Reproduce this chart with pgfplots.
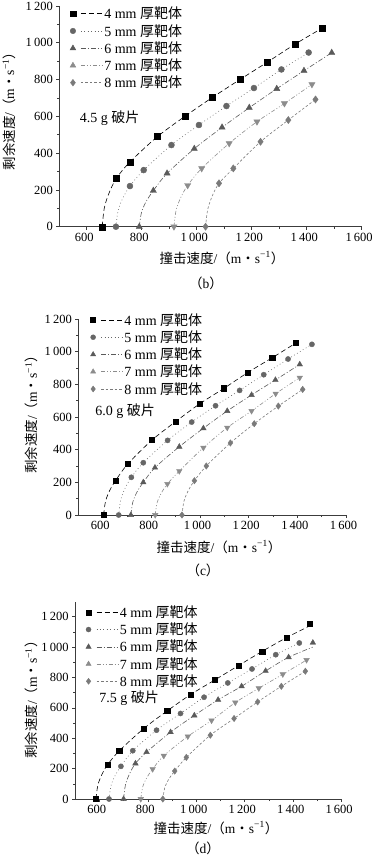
\documentclass[border=0pt]{standalone}
\usepackage{fontspec}
\setmainfont{Liberation Serif}
\newfontfamily\cjk{Noto Sans CJK SC}
\usepackage{pgfplots}
\pgfplotsset{compat=1.18}

\definecolor{g5}{HTML}{666666}
\definecolor{g6}{HTML}{5A5A5A}
\definecolor{g7}{HTML}{8C8C8C}
\definecolor{g8}{HTML}{7A7A7A}
\definecolor{axc}{HTML}{3C3C3C}

\tikzset{
  dA/.style={dash pattern=on 5pt off 3pt},
  dB/.style={dash pattern=on 0.8pt off 2.6pt},
  dC/.style={dash pattern=on 5pt off 2pt on 1pt off 2pt},
  dD/.style={dash pattern=on 4pt off 2pt on 1pt off 2pt on 1pt off 2pt},
  dE/.style={dash pattern=on 2.5pt off 2pt},
}

\pgfplotsset{
  legimg/.style n args={4}{legend image code/.code={
     \draw[#1, #4, line width=0.6pt] (0.38cm,0cm) -- (1.12cm,0cm);
     \path[draw=#1, fill=#1, mark=#2, mark size=#3, mark options={solid}] plot coordinates {(0.1cm,0cm)};
  }},
  base/.style={
    scale only axis, axis lines=left, axis line style={-, axc, line width=0.7pt},
    xmin=500, xmax=1600, ymin=0,
    xtick={600,800,...,1600}, minor x tick num=1,
    ytick={0,200,...,1200}, minor y tick num=1,
    tick align=outside, major tick length=3pt, minor tick length=2pt,
    tick style={axc, line width=0.6pt},
    /pgf/number format/assume math mode=true,
    /pgf/number format/1000 sep={\,},
    font=\fontsize{13}{15}\selectfont,
    ticklabel style={font=\fontsize{12.5}{15}\selectfont},
    xticklabel style={xshift=-2.5pt},
    clip=false,
    legend style={draw=none, fill=none, anchor=north west, legend cell align=left,
      row sep=0pt, font=\fontsize{14}{16}\selectfont, inner sep=0pt},
  },
  cv/.style={line width=0.6pt, smooth, tension=0.5, forget plot},
  mk/.style={only marks, forget plot, mark options={solid}},
}

\newcommand{\xl}{{\cjk 撞击速度}/{\cjk （}m{\cjk ・}s\textsuperscript{−1}{\cjk ）}}
\newcommand{\yl}{{\cjk 剩余速度}/{\cjk （}m{\cjk ・}s\textsuperscript{−1}{\cjk ）}}
\newcommand{\legt}[1]{#1 mm {\cjk 厚靶体}}

\begin{document}
\begin{tikzpicture}
\useasboundingbox (0,0) rectangle (372pt,-860pt);

% ---------------- (b) ----------------
\begin{axis}[base, at={(59.3pt,-226.7pt)}, anchor=south west,
  width=302.4pt, height=220.7pt, ymax=1200,
  legend style={at={(0.035,1.005)}}]
\addlegendimage{legimg={black}{square*}{2.8pt}{dA}}
\addlegendentry{\legt{4}}
\addlegendimage{legimg={g5}{*}{2.8pt}{dB}}
\addlegendentry{\legt{5}}
\addlegendimage{legimg={g6}{triangle*}{3.3pt}{dC}}
\addlegendentry{\legt{6}}
\addlegendimage{legimg={g7}{triangle*, mark options={rotate=180}}{3.3pt}{dD}}
\addlegendentry{\legt{7}}
\addlegendimage{legimg={g8}{diamond*}{3.3pt}{dE}}
\addlegendentry{\legt{8}}

\addplot[cv, black, dA] coordinates {(656,0)(664,104)(681,183)(707,262)(757,352)(857,490)(957,600)(1057,703)(1157,800)(1257,895)(1357,992)(1457,1080)};
\addplot[cv, g5, dB] coordinates {(706,0)(714,88)(731,155)(757,221)(807,308)(908,444)(1008,553)(1108,656)(1208,754)(1308,855)(1407,947)};
\addplot[cv, g6, dC] coordinates {(791,0)(799,78)(816,137)(842,196)(892,290)(991,424)(1092,540)(1191,647)(1291,750)(1390,848)(1491,946)};
\addplot[cv, g7, dD] coordinates {(917,0)(925,90)(942,159)(967,225)(1018,317)(1118,453)(1219,571)(1319,670)(1419,774)};
\addplot[cv, g8, dE] coordinates {(1032,0)(1040,95)(1057,169)(1081,236)(1133,317)(1232,462)(1333,580)(1432,692)};

\addplot[mk, black, mark=square*, mark size=3pt] coordinates {(656,0)(707,262)(757,352)(857,490)(957,600)(1057,703)(1157,800)(1257,895)(1357,992)(1457,1080)};
\addplot[mk, g5, mark=*, mark size=3pt] coordinates {(706,0)(757,221)(807,308)(908,444)(1008,553)(1108,656)(1208,754)(1308,855)(1407,947)};
\addplot[mk, g6, mark=triangle*, mark size=3.6pt] coordinates {(791,0)(842,196)(892,290)(991,424)(1092,540)(1191,647)(1291,750)(1390,848)(1491,946)};
\addplot[mk, g7, mark=triangle*, mark size=3.6pt, mark options={rotate=180}] coordinates {(917,0)(967,225)(1018,317)(1118,453)(1219,571)(1319,670)(1419,774)};
\addplot[mk, g8, mark=diamond*, mark size=3.6pt] coordinates {(1032,0)(1081,236)(1133,317)(1232,462)(1333,580)(1432,692)};

\node[anchor=west, font=\fontsize{14}{16}\selectfont] at (axis cs:562,591) {4.5 g {\cjk 破片}};
\end{axis}

% ---------------- (c) ----------------
\begin{axis}[base, at={(78.3pt,-515pt)}, anchor=south west,
  width=267.7pt, height=196pt, ymax=1200,
  legend style={at={(0.045,1.04)}}]
\addlegendimage{legimg={black}{square*}{2.5pt}{dA}}
\addlegendentry{\legt{4}}
\addlegendimage{legimg={g5}{*}{2.5pt}{dB}}
\addlegendentry{\legt{5}}
\addlegendimage{legimg={g6}{triangle*}{3pt}{dC}}
\addlegendentry{\legt{6}}
\addlegendimage{legimg={g7}{triangle*, mark options={rotate=180}}{3pt}{dD}}
\addlegendentry{\legt{7}}
\addlegendimage{legimg={g8}{diamond*}{3pt}{dE}}
\addlegendentry{\legt{8}}

\addplot[cv, black, dA] coordinates {(604,0)(612,85)(629,150)(653,210)(703,312)(803,459)(901,573)(1000,682)(1099,776)(1197,873)(1297,963)(1394,1053)};
\addplot[cv, g5, dB] coordinates {(666,0)(674,91)(691,160)(718,231)(767,320)(867,457)(966,569)(1064,669)(1163,763)(1262,859)(1362,955)(1460,1045)};
\addplot[cv, g6, dC] coordinates {(716,0)(724,79)(741,140)(767,200)(815,290)(915,418)(1014,531)(1112,637)(1212,735)(1310,827)(1410,922)};
\addplot[cv, g7, dD] coordinates {(816,0)(824,76)(841,134)(866,190)(915,269)(1014,412)(1112,535)(1212,637)(1311,743)(1410,841)};
\addplot[cv, g8, dE] coordinates {(926,0)(934,83)(951,147)(977,210)(1026,300)(1125,441)(1223,559)(1322,667)(1422,769)};

\addplot[mk, black, mark=square*, mark size=2.6pt] coordinates {(604,0)(653,210)(703,312)(803,459)(901,573)(1000,682)(1099,776)(1197,873)(1297,963)(1394,1053)};
\addplot[mk, g5, mark=*, mark size=2.6pt] coordinates {(666,0)(718,231)(767,320)(867,457)(966,569)(1064,669)(1163,763)(1262,859)(1362,955)(1460,1045)};
\addplot[mk, g6, mark=triangle*, mark size=3.2pt] coordinates {(716,0)(767,200)(815,290)(915,418)(1014,531)(1112,637)(1212,735)(1310,827)(1410,922)};
\addplot[mk, g7, mark=triangle*, mark size=3.2pt, mark options={rotate=180}] coordinates {(816,0)(866,190)(915,269)(1014,412)(1112,535)(1212,637)(1311,743)(1410,841)};
\addplot[mk, g8, mark=diamond*, mark size=3.2pt] coordinates {(926,0)(977,210)(1026,300)(1125,441)(1223,559)(1322,667)(1422,769)};

\node[anchor=west, font=\fontsize{14}{16}\selectfont] at (axis cs:556,637) {6.0 g {\cjk 破片}};
\end{axis}

% ---------------- (d) ----------------
\begin{axis}[base, at={(75.1pt,-799pt)}, anchor=south west,
  width=266.6pt, height=197.5pt, ymax=1300,
  legend style={at={(0.04,0.99)}}]
\addlegendimage{legimg={black}{square*}{2.5pt}{dA}}
\addlegendentry{\legt{4}}
\addlegendimage{legimg={g5}{*}{2.5pt}{dB}}
\addlegendentry{\legt{5}}
\addlegendimage{legimg={g6}{triangle*}{3pt}{dC}}
\addlegendentry{\legt{6}}
\addlegendimage{legimg={g7}{triangle*, mark options={rotate=180}}{3pt}{dD}}
\addlegendentry{\legt{7}}
\addlegendimage{legimg={g8}{diamond*}{3pt}{dE}}
\addlegendentry{\legt{8}}

\addplot[cv, black, dA] coordinates {(586,0)(594,92)(611,163)(634,226)(682,317)(782,462)(880,580)(977,688)(1077,784)(1174,878)(1272,972)(1372,1062)(1469,1140)};
\addplot[cv, g5, dB] coordinates {(640,0)(648,87)(665,154)(689,215)(738,318)(836,453)(935,563)(1032,670)(1130,764)(1230,856)(1328,950)(1425,1027)};
\addplot[cv, g6, dC] coordinates {(700,0)(708,95)(725,167)(749,234)(795,309)(894,440)(992,550)(1090,653)(1187,742)(1286,843)(1381,933)(1481,1000)};
\addplot[cv, g7, dD] coordinates {(771,0)(779,80)(796,141)(820,197)(866,285)(965,412)(1063,517)(1161,635)(1258,729)(1357,821)(1455,915)};
\addplot[cv, g8, dE] coordinates {(862,0)(870,74)(887,132)(911,184)(959,274)(1058,420)(1156,530)(1253,639)(1351,742)(1450,841)};

\addplot[mk, black, mark=square*, mark size=2.6pt] coordinates {(586,0)(634,226)(682,317)(782,462)(880,580)(977,688)(1077,784)(1174,878)(1272,972)(1372,1062)(1469,1152)};
\addplot[mk, g5, mark=*, mark size=2.6pt] coordinates {(640,0)(689,215)(738,318)(836,453)(935,563)(1032,670)(1130,764)(1230,856)(1328,950)(1425,1027)};
\addplot[mk, g6, mark=triangle*, mark size=3.2pt] coordinates {(700,0)(749,234)(795,309)(894,440)(992,550)(1090,653)(1187,742)(1286,843)(1381,933)(1481,1029)};
\addplot[mk, g7, mark=triangle*, mark size=3.2pt, mark options={rotate=180}] coordinates {(771,0)(820,197)(866,285)(965,412)(1063,517)(1161,635)(1258,729)(1357,821)(1455,915)};
\addplot[mk, g8, mark=diamond*, mark size=3.2pt] coordinates {(862,0)(911,184)(959,274)(1058,420)(1156,530)(1253,639)(1351,742)(1450,841)};

\node[anchor=west, font=\fontsize{14}{16}\selectfont] at (axis cs:586,665) {7.5 g {\cjk 破片}};
\end{axis}

% ---------------- labels ----------------
\begin{scope}[every node/.style={font=\fontsize{13.5}{15}\selectfont}]
\node at (222pt,-258pt) {\xl};
\node at (206pt,-283pt) {{\cjk （}b{\cjk ）}};
\node[rotate=90] at (9pt,-108pt) {\yl};

\node at (219pt,-547pt) {\xl};
\node at (203pt,-570pt) {{\cjk （}c{\cjk ）}};
\node[rotate=90] at (31.7pt,-411.5pt) {\yl};

\node at (216pt,-828pt) {\xl};
\node at (203pt,-848pt) {{\cjk （}d{\cjk ）}};
\node[rotate=90] at (31.7pt,-696.7pt) {\yl};
\end{scope}
\end{tikzpicture}
\end{document}
